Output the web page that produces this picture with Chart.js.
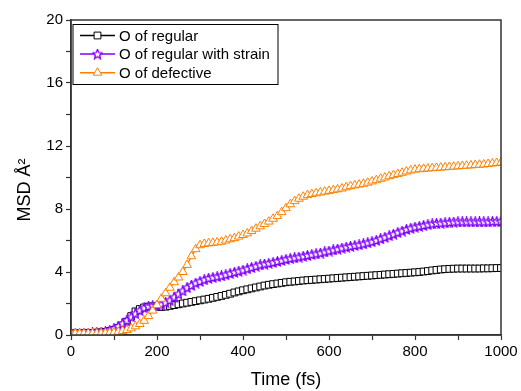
<!DOCTYPE html>
<html>
<head>
<meta charset="utf-8">
<script src="https://cdn.jsdelivr.net/npm/chart.js@4.4.1/dist/chart.umd.min.js"></script>
<style>
  html, body { margin: 0; padding: 0; background: #fff; }
  #wrap { width: 521px; height: 391px; }
</style>
</head>
<body>
<div id="wrap"><canvas id="msdChart" width="521" height="391"></canvas></div>
<script>
// time axis (fs)
const times = [
  0, 10, 20, 30, 40, 50, 60, 70, 80, 90,
  100, 110, 120, 130, 140, 150, 160, 170, 180, 190,
  200, 210, 220, 230, 240, 250, 260, 270, 280, 290,
  300, 310, 320, 330, 340, 350, 360, 370, 380, 390,
  400, 410, 420, 430, 440, 450, 460, 470, 480, 490,
  500, 510, 520, 530, 540, 550, 560, 570, 580, 590,
  600, 610, 620, 630, 640, 650, 660, 670, 680, 690,
  700, 710, 720, 730, 740, 750, 760, 770, 780, 790,
  800, 810, 820, 830, 840, 850, 860, 870, 880, 890,
  900, 910, 920, 930, 940, 950, 960, 970, 980, 990, 1000
];

const seriesNames = ["O of regular", "O of regular with strain", "O of defective"];

const msdRegular = [
  0.10, 0.10, 0.10, 0.11, 0.12, 0.13, 0.15, 0.17, 0.20, 0.25,
  0.32, 0.45, 0.60, 0.85, 1.20, 1.50, 1.65, 1.75, 1.80, 1.82,
  1.80, 1.78, 1.80, 1.85, 1.90, 1.95, 2.00, 2.05, 2.10, 2.15,
  2.20, 2.25, 2.30, 2.36, 2.42, 2.48, 2.55, 2.62, 2.70, 2.77,
  2.84, 2.90, 2.96, 3.02, 3.08, 3.14, 3.19, 3.23, 3.27, 3.31,
  3.35, 3.38, 3.40, 3.43, 3.46, 3.48, 3.50, 3.52, 3.54, 3.56,
  3.58, 3.60, 3.62, 3.64, 3.66, 3.68, 3.70, 3.72, 3.74, 3.76,
  3.78, 3.80, 3.82, 3.84, 3.86, 3.88, 3.90, 3.92, 3.94, 3.96,
  3.98, 4.00, 4.03, 4.06, 4.10, 4.13, 4.16, 4.18, 4.20, 4.21,
  4.22, 4.22, 4.22, 4.22, 4.22, 4.22, 4.23, 4.23, 4.24, 4.25, 4.25
];

const msdStrain = [
  0.10, 0.10, 0.10, 0.11, 0.12, 0.13, 0.15, 0.18, 0.22, 0.30,
  0.40, 0.55, 0.72, 0.92, 1.15, 1.35, 1.55, 1.72, 1.82, 1.85,
  1.88, 1.95, 2.05, 2.20, 2.40, 2.60, 2.80, 3.00, 3.15, 3.30,
  3.40, 3.50, 3.60, 3.65, 3.70, 3.75, 3.82, 3.90, 3.98, 4.05,
  4.12, 4.20, 4.28, 4.36, 4.45, 4.50, 4.55, 4.60, 4.67, 4.73,
  4.80, 4.85, 4.90, 4.95, 5.00, 5.05, 5.10, 5.15, 5.20, 5.27,
  5.33, 5.40, 5.46, 5.52, 5.58, 5.63, 5.68, 5.72, 5.78, 5.85,
  5.92, 6.00, 6.10, 6.20, 6.30, 6.40, 6.50, 6.60, 6.70, 6.78,
  6.85, 6.90, 6.95, 7.00, 7.05, 7.08, 7.10, 7.12, 7.15, 7.17,
  7.18, 7.18, 7.18, 7.18, 7.18, 7.18, 7.18, 7.18, 7.20, 7.20, 7.20
];

const msdDefective = [
  0.10, 0.10, 0.10, 0.10, 0.10, 0.10, 0.10, 0.11, 0.12, 0.14,
  0.16, 0.20, 0.25, 0.32, 0.42, 0.55, 0.70, 0.90, 1.20, 1.55,
  1.90, 2.30, 2.65, 3.00, 3.35, 3.65, 4.00, 4.45, 5.00, 5.45,
  5.70, 5.78, 5.82, 5.85, 5.88, 5.92, 6.00, 6.08, 6.15, 6.25,
  6.35, 6.45, 6.60, 6.75, 6.90, 7.05, 7.20, 7.38, 7.55, 7.80,
  8.05, 8.30, 8.50, 8.65, 8.78, 8.88, 8.95, 9.00, 9.05, 9.10,
  9.15, 9.20, 9.25, 9.30, 9.38, 9.45, 9.50, 9.55, 9.60, 9.67,
  9.75, 9.83, 9.92, 10.00, 10.08, 10.15, 10.22, 10.30, 10.38, 10.45,
  10.50, 10.53, 10.55, 10.57, 10.59, 10.61, 10.63, 10.65, 10.67, 10.69,
  10.71, 10.73, 10.75, 10.77, 10.79, 10.81, 10.83, 10.86, 10.89, 10.92, 10.95
];

const colors = ["#000000", "#8000ff", "#ff8000"];
const FONT = "'Liberation Sans', Arial, sans-serif";

// open five-point star marker
const makeStar = function (color) {
  const c = document.createElement("canvas");
  c.width = 11;
  c.height = 11;
  const g = c.getContext("2d");
  g.beginPath();
  for (let i = 0; i < 10; i++) {
    const r = i % 2 === 0 ? 5 : 2.3;
    const a = -Math.PI / 2 + (i * Math.PI) / 5;
    const px = 5.5 + r * Math.cos(a);
    const py = 5.8 + r * Math.sin(a);
    if (i === 0) g.moveTo(px, py);
    else g.lineTo(px, py);
  }
  g.closePath();
  g.fillStyle = "#fff";
  g.fill();
  g.strokeStyle = color;
  g.lineWidth = 1.3;
  g.stroke();
  return c;
};
const starMarker = makeStar(colors[1]);

const toPoints = (ys) => times.map((t, i) => ({ x: t, y: ys[i] }));

// frame round the plot
const framePlugin = {
  id: "frame",
  afterDraw(chart) {
    const a = chart.chartArea;
    const ctx = chart.ctx;
    ctx.save();
    ctx.strokeStyle = "#333";
    ctx.lineWidth = 1.5;
    ctx.strokeRect(a.left, a.top, a.right - a.left, a.bottom - a.top);
    ctx.restore();
  },
};

// legend box inside the plot
const boxLegend = {
  id: "boxLegend",
  afterDatasetsDraw(chart) {
    const ctx = chart.ctx;
    const a = chart.chartArea;
    const x0 = a.left + 2, y0 = a.top + 4.5;
    ctx.save();
    ctx.fillStyle = "#fff";
    ctx.fillRect(x0, y0, 205, 60);
    ctx.strokeStyle = "#000";
    ctx.lineWidth = 1;
    ctx.strokeRect(x0, y0, 205, 60);
    chart.data.datasets.forEach((ds, i) => {
      const y = y0 + 11 + i * 18.6;
      ctx.strokeStyle = ds.borderColor;
      ctx.lineWidth = 1.5;
      ctx.beginPath();
      ctx.moveTo(x0 + 7, y);
      ctx.lineTo(x0 + 42, y);
      ctx.stroke();
      ctx.fillStyle = "#fff";
      ctx.lineWidth = 1;
      Chart.helpers.drawPoint(ctx, {
        pointStyle: ds.pointStyle,
        radius: ds.pointRadius,
        borderWidth: 1,
        rotation: 0,
      }, x0 + 24.5, y);
      ctx.fillStyle = "#000";
      ctx.font = "15px " + FONT;
      ctx.textBaseline = "middle";
      ctx.fillText(ds.label, x0 + 46, y + 1);
    });
    ctx.restore();
  },
};

const ctx = document.getElementById("msdChart").getContext("2d");
const msdChart = new Chart(ctx, {
  type: "line",
  data: {
    datasets: [
      {
        label: seriesNames[0],
        data: toPoints(msdRegular),
        borderColor: colors[0],
        backgroundColor: "#fff",
        pointStyle: "rect",
        pointRadius: 4.8,
        pointBorderWidth: 1,
        borderWidth: 1.5,
        order: 3,
      },
      {
        label: seriesNames[1],
        data: toPoints(msdStrain),
        borderColor: colors[1],
        backgroundColor: "#fff",
        pointStyle: starMarker,
        pointRadius: 5,
        pointBorderWidth: 1,
        borderWidth: 1.5,
        order: 2,
      },
      {
        label: seriesNames[2],
        data: toPoints(msdDefective),
        borderColor: colors[2],
        backgroundColor: "#fff",
        pointStyle: "triangle",
        pointRadius: 5,
        pointBorderWidth: 1,
        borderWidth: 1.5,
        order: 1,
      },
    ],
  },
  options: {
    responsive: false,
    animation: false,
    layout: { padding: { top: 20, right: 20, left: 0, bottom: 0 } },
    plugins: {
      legend: { display: false },
      tooltip: { enabled: false },
    },
    elements: { line: { tension: 0 } },
    scales: {
      x: {
        type: "linear",
        min: 0,
        max: 1000,
        border: { color: "#333", width: 1.5 },
        grid: { drawOnChartArea: false, tickLength: 5, color: "#333", tickWidth: 1.2 },
        ticks: {
          stepSize: 100,
          maxRotation: 0,
          autoSkip: false,
          color: "#000",
          font: { size: 15, family: FONT },
          padding: 3,
          callback: (v) => (v % 200 === 0 ? v : ""),
        },
        title: {
          display: true,
          text: "Time (fs)",
          color: "#000",
          font: { size: 18, family: FONT },
          padding: { top: 4, bottom: 0 },
        },
        afterFit: (scale) => { scale.height = 56; },
      },
      y: {
        min: 0,
        max: 20,
        border: { color: "#333", width: 1.5 },
        grid: { drawOnChartArea: false, tickLength: 5, color: "#333", tickWidth: 1.2 },
        ticks: {
          stepSize: 2,
          autoSkip: false,
          color: "#000",
          font: { size: 15, family: FONT },
          padding: 3,
          callback: (v) => (v % 4 === 0 ? v : ""),
        },
        title: {
          display: true,
          // trailing spaces push the rotated label a little below centre
          text: "MSD Å²\u00a0\u00a0\u00a0\u00a0\u00a0",
          color: "#000",
          font: { size: 18, family: FONT },
          padding: { top: 14, bottom: 0 },
        },
        afterFit: (scale) => { scale.width = 71; },
      },
    },
  },
  plugins: [framePlugin, boxLegend],
});
</script>
</body>
</html>
